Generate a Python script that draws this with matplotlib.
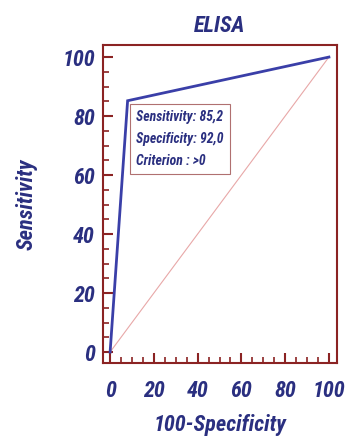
import numpy as np
import matplotlib.pyplot as plt
from matplotlib import font_manager
from matplotlib.ticker import MultipleLocator

# ROC points for ELISA
fpr = [0, 8.0, 100]        # 100-Specificity
tpr = [0, 85.2, 100]       # Sensitivity
diag = [0, 100]

box_lines = ['Sensitivity: 85,2', 'Specificity: 92,0', 'Criterion : >0']

NAVY = '#2a2f80'
FRAME = '#8b2323'

# narrow font if one is installed
names = {f.name for f in font_manager.fontManager.ttflist}
narrow = [n for n in ['Liberation Sans Narrow', 'Roboto Condensed', 'Open Sans Condensed',
                      'DejaVu Sans Condensed'] if n in names]
FONT = narrow[:1] + ['Liberation Sans', 'DejaVu Sans']
is_narrow = len(narrow) > 0

fig = plt.figure(figsize=(3.46, 4.41), dpi=100)
ax = fig.add_axes([0.298, 0.177, 0.676, 0.721])

ax.plot(diag, diag, color='#e8a8a8', lw=0.8)
ax.plot(fpr, tpr, color='#3a3fa8', lw=2.0, solid_joinstyle='miter')

ax.set_xlim(-3.2, 103.7)
ax.set_ylim(-3.7, 104.1)
ax.xaxis.set_major_locator(MultipleLocator(20))
ax.xaxis.set_minor_locator(MultipleLocator(5))
ax.yaxis.set_major_locator(MultipleLocator(20))
ax.yaxis.set_minor_locator(MultipleLocator(5))
tsize = 16 if is_narrow else 14.5
ax.tick_params(which='major', direction='in', length=7, width=1.5, color=FRAME,
               labelcolor=NAVY, labelsize=tsize)
ax.tick_params(axis='x', which='major', pad=12)
ax.tick_params(axis='y', which='major', pad=6)
ax.tick_params(which='minor', direction='in', length=4, width=1.2, color=FRAME)
for s in ax.spines.values():
    s.set_color(FRAME)
    s.set_linewidth(1.5)
for lab in ax.get_xticklabels() + ax.get_yticklabels():
    lab.set_family(FONT)
    lab.set_style('italic')
    lab.set_weight('bold')

lsize = 16 if is_narrow else 15
ax.set_title('ELISA', color=NAVY, fontsize=lsize, family=FONT, style='italic',
             weight='bold', pad=9)
ax.set_xlabel('100-Specificity', color=NAVY, fontsize=lsize, family=FONT,
              style='italic', weight='bold', labelpad=9)
ax.set_ylabel('Sensitivity', color=NAVY, fontsize=lsize, family=FONT,
              style='italic', weight='bold', labelpad=18)

ax.text(11.8, 82.0, '\n'.join(box_lines), color=NAVY,
        fontsize=9.9 if is_narrow else 9.3, family=FONT,
        style='italic', weight='bold', va='top', ha='left', linespacing=1.7,
        bbox=dict(boxstyle='square,pad=0.45', fc='white', ec='#b07070', lw=0.8))

fig.savefig('out.png', dpi=100)
